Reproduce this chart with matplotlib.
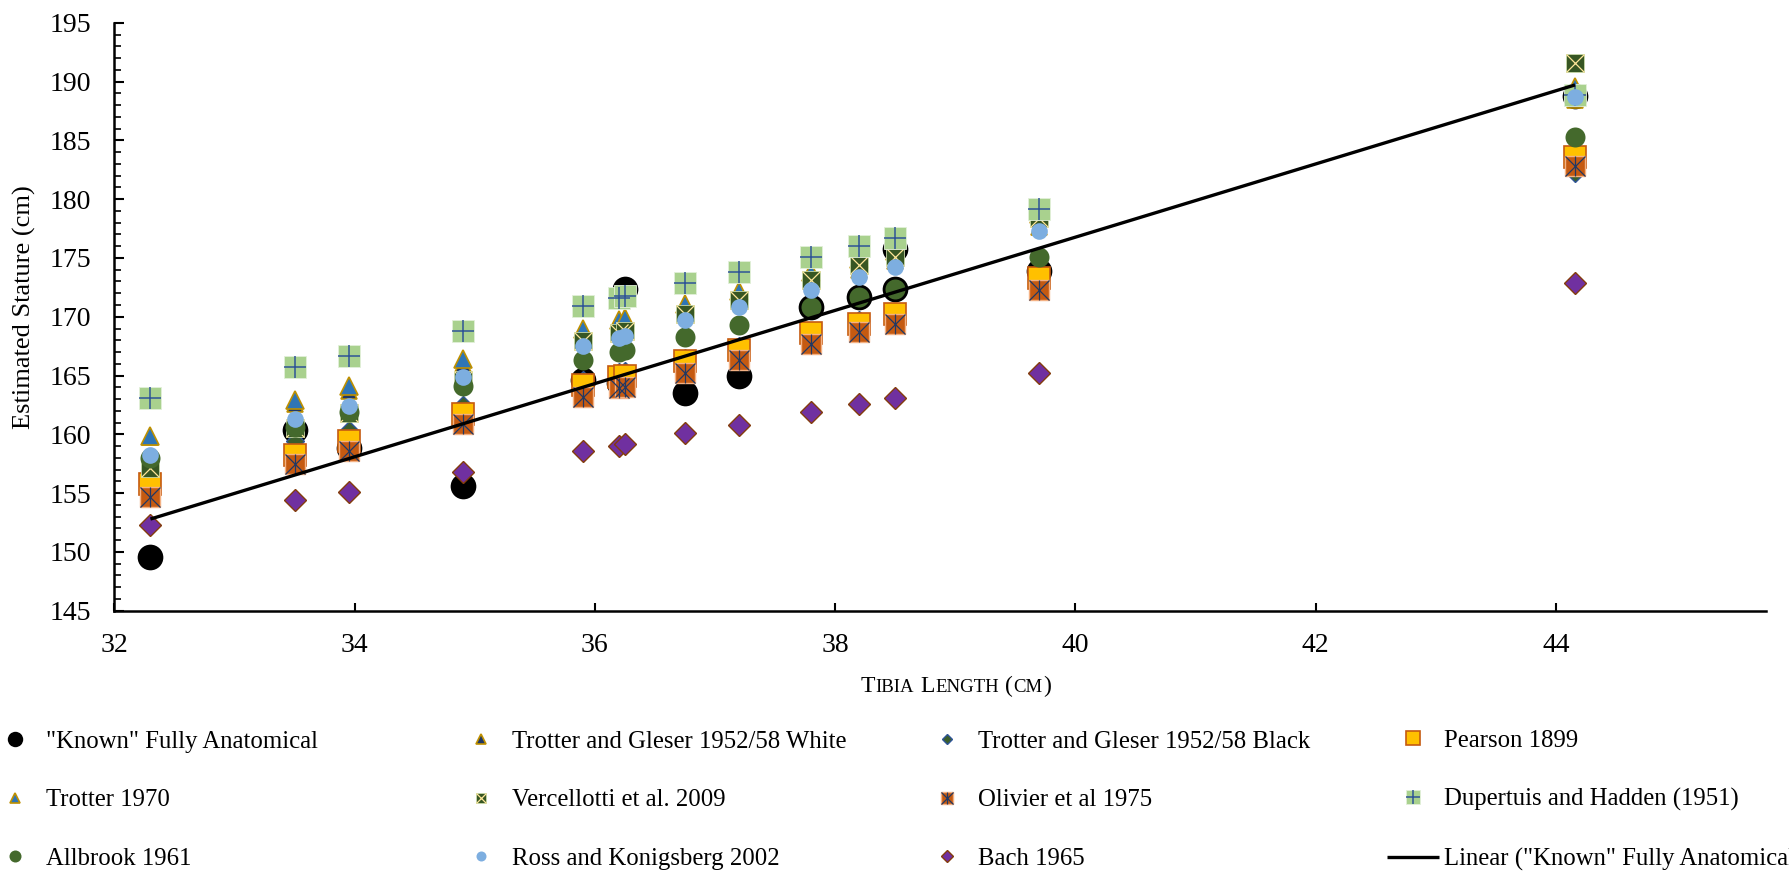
import matplotlib
matplotlib.use("Agg")
import matplotlib.pyplot as plt
import numpy as np
from matplotlib.ticker import MultipleLocator

plt.rcParams['font.family'] = ['Liberation Serif', 'DejaVu Serif']

# ---------------- data ----------------
tibia_known = [32.3, 33.5, 33.95, 34.9, 35.9, 36.2, 36.25, 36.75, 37.2, 37.8, 38.2, 38.5, 38.5, 39.7, 44.16]
known = [149.6, 160.4, 158.8, 155.6, 164.6, 164.4, 172.4, 163.5, 165.0, 170.8, 171.7, 172.4, 175.8, 173.9, 188.8]

tibia = [32.3, 33.5, 33.95, 34.9, 35.9, 36.2, 36.25, 36.75, 37.2, 37.8, 38.2, 38.5, 39.7, 44.16]
tg_white = [159.8, 162.6, 163.7, 166.0, 168.4, 169.1, 169.3, 170.5, 171.6, 173.0, 174.0, 174.7, 177.6, 188.4]
tg_black = [156.8, 159.4, 160.4, 162.5, 164.6, 165.3, 165.4, 166.5, 167.5, 168.8, 169.7, 170.3, 172.9, 182.2]
pearson = [155.8, 158.2, 159.4, 161.7, 164.2, 164.9, 165.0, 166.2, 167.2, 168.6, 169.4, 170.2, 173.3, 183.6]
trotter_1970 = [159.9, 162.9, 164.1, 166.4, 169.0, 169.7, 169.9, 171.1, 172.2, 173.8, 174.9, 175.6, 178.7, 189.5]
vercellotti = [157.1, 160.5, 161.8, 164.6, 167.9, 168.6, 168.8, 170.2, 171.4, 173.1, 174.4, 175.1, 178.4, 191.6]
olivier = [154.7, 157.5, 158.6, 160.9, 163.2, 163.9, 164.0, 165.2, 166.3, 167.7, 168.7, 169.4, 172.3, 182.8]
dupertuis = [163.1, 165.7, 166.7, 168.8, 170.9, 171.6, 171.8, 172.9, 173.8, 175.1, 176.0, 176.7, 179.2, 188.9]
allbrook = [158.0, 160.6, 161.9, 164.1, 166.3, 167.0, 167.2, 168.3, 169.3, 170.8, 171.7, 172.4, 175.1, 185.3]
ross = [158.2, 161.3, 162.4, 164.9, 167.5, 168.2, 168.4, 169.7, 170.8, 172.3, 173.4, 174.2, 177.3, 188.7]
bach = [152.3, 154.4, 155.1, 156.8, 158.6, 159.0, 159.2, 160.1, 160.8, 161.9, 162.6, 163.1, 165.2, 172.9]

labels = ['"Known" Fully Anatomical', 'Trotter and Gleser 1952/58 White',
          'Trotter and Gleser 1952/58 Black', 'Pearson 1899', 'Trotter 1970',
          'Vercellotti et al. 2009', 'Olivier et al 1975', 'Dupertuis and Hadden (1951)',
          'Allbrook 1961', 'Ross and Konigsberg 2002', 'Bach 1965',
          'Linear ("Known" Fully Anatomical)']
x_ticks = [32, 34, 36, 38, 40, 42, 44]

# ---------------- figure ----------------
W, H = 1789, 871
fig = plt.figure(figsize=(W / 100, H / 100), dpi=100)
x0, x1, y0, y1 = 114.4, 1766, 22.8, 610.7
ax = fig.add_axes([x0 / W, 1 - y1 / H, (x1 - x0) / W, (y1 - y0) / H])

def pts(ax, x, y, z, **kw):
    return ax.plot(x, y, ls='none', zorder=z, clip_on=False, **kw)[0]

h = {}
h['known'] = pts(ax, tibia_known, known, 3, marker='o', ms=18.5, mfc='black', mec='black', mew=0)
h['tgw'] = pts(ax, tibia, tg_white, 4, marker='^', ms=12, mfc='#203864', mec='#BF9000', mew=1.2)
h['tgb'] = pts(ax, tibia, tg_black, 5, marker='D', ms=9, mfc='#3B5E2B', mec='#2F5597', mew=1.0)
h['pearson'] = pts(ax, tibia, pearson, 6, marker='s', ms=16, mfc='#FFC000', mec='#C55A11', mew=1.2)
h['t1970'] = pts(ax, tibia, trotter_1970, 7, marker='^', ms=12.5, mfc='#2E75B6', mec='#BF9000', mew=1.2)
v1 = pts(ax, tibia, vercellotti, 8, marker='s', ms=12.5, mfc='#375623', mec='#C9D9A8', mew=0.6)
v2 = pts(ax, tibia, vercellotti, 8.1, marker='x', ms=12.5, mec='#FFE699', mew=0.9)
h['verc'] = (v1, v2)
o1 = pts(ax, tibia, olivier, 9, marker='s', ms=14, mfc='#C55A11', mec='#F4B183', mew=1.0)
o2 = pts(ax, tibia, olivier, 9.1, marker='x', ms=14, mec='#203864', mew=0.9)
o3 = pts(ax, tibia, olivier, 9.2, marker='|', ms=14, mec='#203864', mew=0.9)
h['olivier'] = (o1, o2, o3)
d1 = pts(ax, tibia, dupertuis, 10, marker='s', ms=16, mfc='#A9D18E', mec='#E2F0D9', mew=0.6)
d2 = pts(ax, tibia, dupertuis, 10.1, marker='+', ms=16, mec='#2F5597', mew=1.1)
h['dup'] = (d1, d2)
h['allbrook'] = pts(ax, tibia, allbrook, 11, marker='o', ms=14.4, mfc='#44692C', mec='#44692C', mew=0)
h['ross'] = pts(ax, tibia, ross, 12, marker='o', ms=12, mfc='#7DAEE0', mec='#7DAEE0', mew=0)
h['bach'] = pts(ax, tibia, bach, 13, marker='D', ms=11, mfc='#7030A0', mec='#843C0C', mew=1.0)

coef = np.polyfit(tibia_known, known, 1)
xs = np.array([min(tibia_known), max(tibia_known)])
h['lin'], = ax.plot(xs, np.polyval(coef, xs), color='black', lw=2.4, zorder=20,
                    solid_capstyle='butt')

# ---------------- axes ----------------
ax.set_xlim(32, 45.75)
ax.set_ylim(145, 195)
ax.xaxis.set_major_locator(MultipleLocator(2))
ax.yaxis.set_major_locator(MultipleLocator(5))
ax.yaxis.set_minor_locator(MultipleLocator(1))
for s in ['top', 'right']:
    ax.spines[s].set_visible(False)
for s in ['left', 'bottom']:
    ax.spines[s].set_linewidth(1.8)
ax.tick_params(axis='y', which='major', direction='in', length=7, width=1.5, labelsize=20, pad=17)
ax.tick_params(axis='y', which='minor', direction='in', length=5, width=1.2)
ax.tick_params(axis='x', which='major', direction='in', length=6, width=1.5, labelsize=20, pad=16)
ax.set_xticks(x_ticks)
ax.set_xticklabels([str(t) for t in x_ticks])

# y label
fig.text(24 / W, 1 - 307 / H, 'Estimated Stature (cm)', rotation=90, fontsize=19,
         ha='center', va='center')

# x label in small caps
renderer = fig.canvas.get_renderer()
big, small = 17, 13.5
parts = [('T', big), ('IBIA', small), (' ', None), ('L', big), ('ENGTH', small), (' ', None),
         ('(', big), ('CM', small), (')', big)]
objs = []
xpos = 0.0
for s, fs in parts:
    if fs is None:
        xpos += 0.25 * big * 100 / 72
        continue
    t = fig.text(0, 1 - 692 / H, s, fontsize=fs, ha='left', va='baseline')
    w = t.get_window_extent(renderer).width
    objs.append((t, xpos))
    xpos += w + 0.5
cx = 956
for t, xp in objs:
    t.set_x((cx - xpos / 2 + xp) / W)

# ---------------- legend (4 columns) ----------------
cols = [
    (['known', 't1970', 'allbrook'], [0, 4, 8]),
    (['tgw', 'verc', 'ross'], [1, 5, 9]),
    (['tgb', 'olivier', 'bach'], [2, 6, 10]),
    (['pearson', 'dup', 'lin'], [3, 7, 11]),
]
marker_x = [15, 481, 947, 1413]
fs_leg = 17.8
hl = 2.1
for (keys, idx), mx in zip(cols, marker_x):
    left = mx - hl * fs_leg * 100 / 72 / 2
    fig.legend([h[k] for k in keys], [labels[i] for i in idx], loc='center left',
               bbox_to_anchor=(left / W, 1 - 800 / H), frameon=False, borderpad=0,
               borderaxespad=0, handlelength=hl, handletextpad=0.2, labelspacing=1.47,
               fontsize=fs_leg, markerscale=0.6, numpoints=1)

fig.savefig('out.png', dpi=100)
